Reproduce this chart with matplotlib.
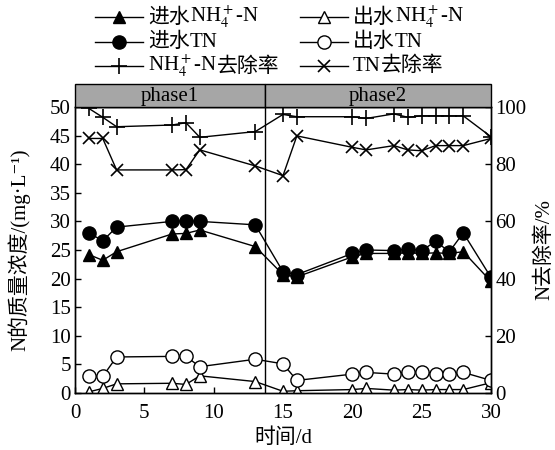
import matplotlib
matplotlib.use("Agg")
import matplotlib.pyplot as plt
from matplotlib.patches import Rectangle
from matplotlib.lines import Line2D
from matplotlib.offsetbox import TextArea, HPacker, AnchoredOffsetbox

FAM = ['Liberation Serif', 'Noto Sans CJK SC', 'DejaVu Sans']
plt.rcParams['font.family'] = FAM
plt.rcParams['mathtext.fontset'] = 'stix'

days = [1, 2, 3, 7, 8, 9, 13, 15, 16, 20, 21, 23, 24, 25, 26, 27, 28, 30]
inf_nh4 = [24.2, 23.2, 24.7, 27.8, 27.9, 28.5, 25.6, 20.7, 20.3, 23.8, 24.4, 24.4, 24.5, 24.4, 24.5, 24.4, 24.7, 19.5]
eff_nh4 = [0.2, 0.8, 1.6, 1.7, 1.5, 3.0, 2.0, 0.3, 0.4, 0.6, 0.8, 0.5, 0.6, 0.5, 0.6, 0.6, 0.6, 1.8]
inf_tn = [28.0, 26.6, 29.0, 30.0, 30.1, 30.0, 29.4, 21.2, 20.7, 24.4, 25.0, 24.9, 25.2, 24.9, 26.5, 24.7, 28.0, 20.2]
eff_tn = [3.0, 2.9, 6.3, 6.4, 6.4, 4.6, 5.9, 5.1, 2.2, 3.3, 3.6, 3.3, 3.7, 3.7, 3.4, 3.3, 3.6, 2.2]
rem_nh4 = [99.5, 96.4, 93.1, 93.7, 94.5, 89.4, 91.4, 97.4, 96.6, 96.6, 96.0, 97.6, 96.4, 96.9, 96.9, 96.9, 96.9, 89.6]
rem_tn = [89.0, 89.0, 78.0, 78.0, 78.1, 85.0, 79.4, 76.0, 89.9, 85.9, 85.0, 86.5, 85.0, 84.7, 86.5, 86.5, 86.5, 89.0]

phase_split = 13.7
phase_labels = ['phase1', 'phase2']
# legend labels: (CJK prefix, main part, CJK suffix)
legend_labels = [
    ('进水', r'NH$_4^+$-N', ''),
    ('出水', r'NH$_4^+$-N', ''),
    ('进水', 'TN', ''),
    ('出水', 'TN', ''),
    ('', r'NH$_4^+$-N', '去除率'),
    ('', 'TN', '去除率'),
]

W, H = 555, 450
fig = plt.figure(figsize=(5.55, 4.5), dpi=100)
ax = fig.add_axes([75 / W, 1 - 393 / H, 416 / W, 286 / H])
ax2 = ax.twinx()

fs = 15
styles = [
    dict(marker='^', ms=9, mfc='black'),
    dict(marker='^', ms=9, mfc='white'),
    dict(marker='o', ms=9.5, mfc='black'),
    dict(marker='o', ms=9.5, mfc='white'),
    dict(marker='+', ms=12, mfc='black', mew=1.2),
    dict(marker='x', ms=8, mfc='black', mew=1.2),
]
series = [inf_nh4, eff_nh4, inf_tn, eff_tn, rem_nh4, rem_tn]
axes_for = [ax, ax, ax, ax, ax2, ax2]
for s, a, st in zip(series, axes_for, styles):
    a.plot(days, s, '-', color='black', lw=1, mec='black', **st)

ax.set_xlim(0, 30)
ax.set_ylim(0, 50)
ax2.set_ylim(0, 100)
ax.set_xticks(range(0, 31, 5))
ax.set_yticks(range(0, 51, 5))
ax2.set_yticks(range(0, 101, 20))
ax.axvline(phase_split, color='black', lw=1)

for a in (ax, ax2):
    a.tick_params(direction='in', labelsize=fs, length=4, width=1, pad=3)
    for s in a.spines.values():
        s.set_linewidth(1)
ax.tick_params(axis='x', pad=8)

ax.set_xlabel('时间/d', fontsize=fs, labelpad=4)
ax.set_ylabel('N的质量浓度/(mg·L⁻¹)', fontsize=fs, labelpad=14)
ax2.set_ylabel('N去除率/%', fontsize=fs, labelpad=6)

# phase band
band = fig.add_axes([75 / W, 1 - 107 / H, 416 / W, 23 / H])
band.set_xlim(0, 30)
band.set_ylim(0, 1)
band.add_patch(Rectangle((0, 0), phase_split, 1, facecolor='#a6a6a6', edgecolor='black', lw=1, clip_on=False))
band.add_patch(Rectangle((phase_split, 0), 30 - phase_split, 1, facecolor='#a6a6a6', edgecolor='black', lw=1, clip_on=False))
band.text(phase_split / 2, 0.45, phase_labels[0], ha='center', va='center', fontsize=fs)
band.text((phase_split + 30) / 2, 0.45, phase_labels[1], ha='center', va='center', fontsize=fs)
band.axis('off')

# manual legend
cols_x = [(95, 143), (300, 348)]
rows_y = [17, 42, 66]
for i, (lab, st) in enumerate(zip(legend_labels, styles)):
    col = i % 2
    row = i // 2
    x0, x1 = cols_x[col]
    y = 1 - rows_y[row] / H
    fig.add_artist(Line2D([x0 / W, x1 / W], [y, y], color='black', lw=1, transform=fig.transFigure))
    fig.add_artist(Line2D([(x0 + x1) / 2 / W], [y], color='black', mec='black',
                          transform=fig.transFigure, **st))
    parts = []
    pre, mid, suf = lab
    if pre:
        parts.append(TextArea(pre, textprops=dict(fontsize=fs, family=FAM)))
    parts.append(TextArea(mid, textprops=dict(fontsize=fs, family=FAM)))
    if suf:
        parts.append(TextArea(suf, textprops=dict(fontsize=fs, family=FAM)))
    box = HPacker(children=parts, align='baseline', pad=0, sep=0)
    anch = AnchoredOffsetbox(loc='center left', child=box, pad=0, borderpad=0, frameon=False,
                             bbox_to_anchor=((x1 + 5) / W, y), bbox_transform=fig.transFigure)
    fig.add_artist(anch)

fig.savefig('out.png', dpi=100)
